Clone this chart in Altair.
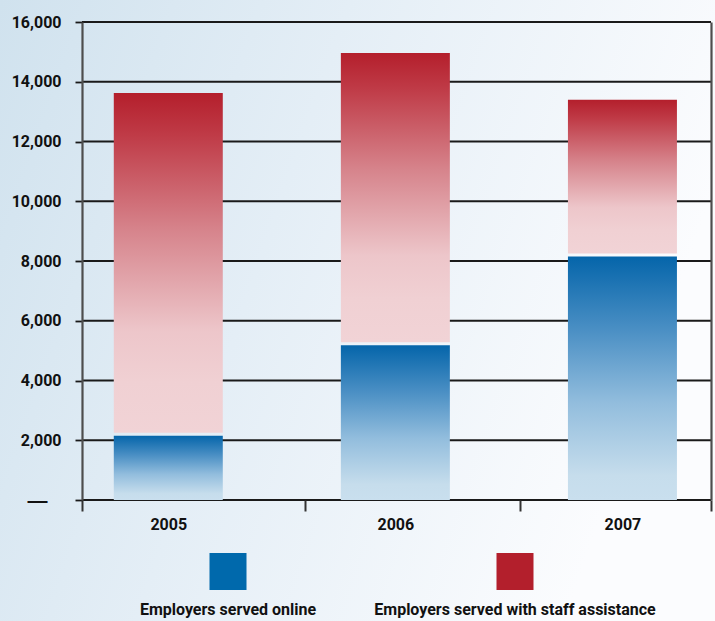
import altair as alt
import pandas as pd

# ---- data ----
years = [2005, 2006, 2007]
online = [2150, 5180, 8150]
staff = [11470, 9780, 5250]
series = ["Employers served online", "Employers served with staff assistance"]
series_colors = ["#0069ac", "#b31f2c"]
y_ticks = [0, 2000, 4000, 6000, 8000, 10000, 12000, 14000, 16000]

FONT = "Roboto, Liberation Sans, sans-serif"

W, H = 629, 478
X_MIN, X_MAX = 2004.62, 2007.39

bar_df = pd.DataFrame({"year": years, "online": online, "staff": staff})
tick_df = pd.DataFrame({"value": y_ticks})
legend_df = pd.DataFrame({"series": series, "color": series_colors})

blue_grad = alt.LinearGradient(
    gradient="linear", x1=0, y1=0, x2=0, y2=1,
    stops=[
        alt.GradientStop(color="#0565aa", offset=0),
        alt.GradientStop(color="#4a8fc4", offset=0.3),
        alt.GradientStop(color="#92bddd", offset=0.6),
        alt.GradientStop(color="#c6ddec", offset=0.9),
        alt.GradientStop(color="#c9dfee", offset=1),
    ],
)
red_grad = alt.LinearGradient(
    gradient="linear", x1=0, y1=0, x2=0, y2=1,
    stops=[
        alt.GradientStop(color="#b41f2c", offset=0),
        alt.GradientStop(color="#bf3a46", offset=0.12),
        alt.GradientStop(color="#d6838b", offset=0.4),
        alt.GradientStop(color="#edc6ca", offset=0.7),
        alt.GradientStop(color="#f0d0d3", offset=0.85),
        alt.GradientStop(color="#f1d3d6", offset=1),
    ],
)
bg_grad = alt.LinearGradient(
    gradient="linear", x1=0, y1=0, x2=1, y2=0.3,
    stops=[
        alt.GradientStop(color="#d0e2ee", offset=0),
        alt.GradientStop(color="#e4eef6", offset=0.45),
        alt.GradientStop(color="#fbfcfe", offset=1),
    ],
)

y_scale = alt.Scale(domain=[0, 16000], nice=False)
x_scale = alt.Scale(domain=[X_MIN, X_MAX], nice=False, zero=False, padding=0)

# background panel covering the whole canvas
bg = alt.Chart(alt.Data(values=[{}])).mark_rect(fill=bg_grad).encode(
    x=alt.value(-82), x2=alt.value(W + 4), y=alt.value(-22), y2=alt.value(H + 121)
)

# horizontal grid lines (drawn behind bars) + right border axis
rules = alt.Chart(tick_df).mark_rule(color="#1a1a1a", strokeWidth=1.8).encode(
    y=alt.Y("value:Q", scale=y_scale,
            axis=alt.Axis(orient="right", labels=False, ticks=False, grid=False,
                          domain=True, domainColor="#4d4d4d", domainWidth=2.2,
                          title=None, zindex=2))
)

x_axis = alt.Axis(
    orient="bottom",
    values=[X_MIN, 2005, 2005.6, 2006, 2006.55, 2007, X_MAX],
    labelExpr="datum.value % 1 == 0 ? format(datum.value, 'd') : ''",
    tickColor={"condition": {"test": "datum.value % 1 == 0", "value": "transparent"},
               "value": "#333333"},
    tickSize=11, tickWidth=2, domain=False, grid=False, title=None,
    labelFont=FONT, labelFontSize=16, labelFontWeight="bold", labelColor="#111111",
    labelPadding=5, zindex=2,
)
y_axis = alt.Axis(
    orient="left",
    values=y_ticks,
    labelExpr="datum.value == 0 ? '—' : format(datum.value, ',')",
    labelFont={"condition": {"test": "datum.value == 0", "value": "Liberation Sans"},
               "value": FONT},
    labelFontSize={"condition": {"test": "datum.value == 0", "value": 20}, "value": 16},
    labelPadding={"condition": {"test": "datum.value == 0", "value": 28}, "value": 14},
    tickSize=7, tickColor="#1a1a1a", tickWidth=1.8,
    domainColor="#4d4d4d", domainWidth=2.2, grid=False, title=None,
    labelFontWeight="bold", labelColor="#111111",
    zindex=2,
)

blue = alt.Chart(bar_df).mark_bar(fill=blue_grad, size=109).encode(
    x=alt.X("year:Q", scale=x_scale, axis=x_axis),
    y=alt.Y("online:Q", scale=y_scale, axis=y_axis),
)
red = alt.Chart(bar_df).transform_calculate(total="datum.online + datum.staff").mark_bar(
    fill=red_grad, size=109, y2Offset=-3
).encode(
    x=alt.X("year:Q", scale=x_scale, axis=None),
    y=alt.Y("total:Q", axis=None),
    y2="online:Q",
)

leg_x = alt.X("series:N", sort=series, axis=None,
              scale=alt.Scale(range=[146, 433], padding=0))
leg_sq = alt.Chart(legend_df).mark_square(size=1369, opacity=1, filled=True).encode(
    x=leg_x,
    y=alt.value(549.5),
    color=alt.Color("series:N", scale=alt.Scale(domain=series, range=series_colors), legend=None),
)
leg_tx = alt.Chart(legend_df).mark_text(font=FONT, fontSize=16, fontWeight="bold",
                                        color="#111111", align="center", baseline="middle").encode(
    x=leg_x,
    y=alt.value(588),
    text="series:N",
)

chart = alt.layer(bg, rules, blue, red, leg_sq, leg_tx).resolve_scale(
    x="independent"
).resolve_axis(
    y="independent"
).properties(
    width=W, height=H,
    autosize=alt.AutoSizeParams(type="none"),
    padding={"left": 82, "top": 22, "right": 4, "bottom": 121},
).configure_view(
    stroke=None
).configure(
    background="#ffffff"
)

chart.save("out.html", embed_options={"renderer": "svg", "actions": False})
